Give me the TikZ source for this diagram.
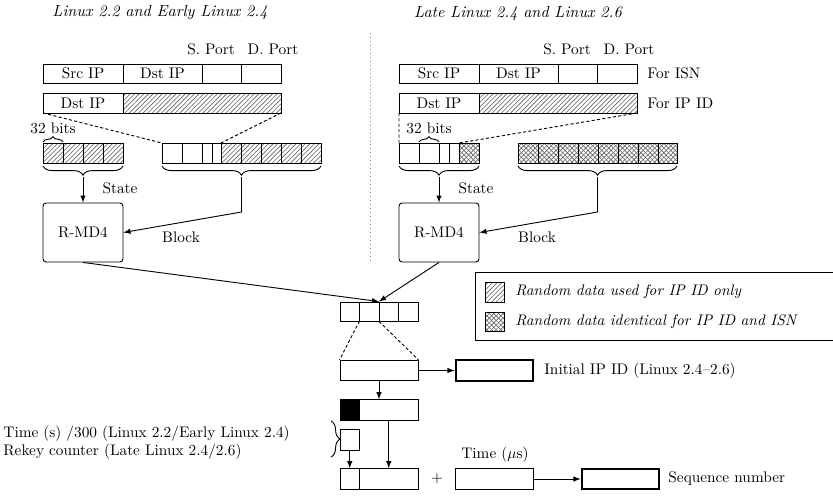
\documentclass[tikz,border=0pt]{standalone}
\usepackage{amsmath}
\usepackage{xcolor}
\usepackage{tikz}
\usetikzlibrary{patterns,decorations.pathreplacing}

\tikzset{
    box/.style={draw, inner sep=0pt, minimum width=50.9pt, minimum height=13.4pt},
    keybox/.style={box, line width=1.3pt},
    md4/.style={draw, rounded corners=2pt, minimum width=52.2pt, minimum height=38.5pt},
    hatch/.style={pattern=north east lines, pattern color=black!60},
    xhatch/.style={pattern=north west lines, pattern color=black!60,
        preaction={fill, pattern=north east lines, pattern color=black!60}},
    brc/.style={decorate, decoration={brace, amplitude=#1}},
    brc/.default=6pt,
    lbl/.style={inner sep=0pt, anchor=west},
    title/.style={font=\fontsize{10.5}{12}\selectfont\itshape},
    zoomline/.style={dash pattern=on 2pt off 1.5pt},
}

\begin{document}
\begin{tikzpicture}[x=0.653pt, y=-0.653pt, >=latex, semithick]
    \useasboundingbox (0,0) rectangle (833,495);

    \node[title] at (160,13) {Linux 2.2 and Early Linux 2.4};
    \node[title] at (518,13) {Late Linux 2.4 and Linux 2.6};
    \draw[dotted, gray] (370,33) -- (370,262);

    \foreach \dx/\nm in {0/A,356/B} {
        \begin{scope}[shift={(\dx,0)}]
            \node at (211,49) {S. Port};
            \node at (273,49) {D. Port};
            \draw (43,64) rectangle (281,83);
            \foreach \x in {123,202,241} \draw (\x,64) -- (\x,83);
            \node at (83,73.5) {Src IP};
            \node at (162.5,73.5) {Dst IP};
            \fill[hatch] (123,93) rectangle (281,113);
            \draw (43,93) rectangle (281,113) (123,93) -- (123,113);
            \node at (83,103) {Dst IP};
            \draw[brc] (123,166) -- (43,166);
            \draw[brc] (321,166) -- (162,166);
            \node[md4] (md\nm) at (83,232.5) {R-MD4};
            \coordinate (st\nm) at (83,177);
            \coordinate (bl\nm) at (241.5,177);
            \node at (120,188) {State};
            \node at (181,237) {Block};
        \end{scope}
        \draw[->] (st\nm) -- (md\nm.north);
        \draw[->] (bl\nm) -- ++(0,35) -- (md\nm.east);
    }

    \node[lbl] at (647,73.5) {For ISN};
    \node[lbl] at (647,103) {For IP ID};

    \node[lbl] at (30,128) {32 bits};
    \draw[brc=3.5pt] (43,142) -- (63,142);
    \fill[hatch] (43,143) rectangle (123,163);
    \draw (43,143) rectangle (123,163);
    \foreach \x in {63,83,103} \draw (\x,143) -- (\x,163);
    \fill[hatch] (221,143) rectangle (321,163);
    \draw (162,143) rectangle (321,163);
    \foreach \x in {182,202,212,221,241,261,281,301} \draw (\x,143) -- (\x,163);
    \draw[zoomline] (43,113) -- (162,143) (281,113) -- (221,143);

    \node[lbl] at (406,128) {32 bits};
    \draw[brc=3.5pt] (419,142) -- (439,142);
    \fill[xhatch] (459,143) rectangle (479,163);
    \draw (399,143) rectangle (479,163);
    \foreach \x in {419,439,449,459} \draw (\x,143) -- (\x,163);
    \fill[xhatch] (518,143) rectangle (677,163);
    \draw (518,143) rectangle (677,163);
    \foreach \x in {538,558,578,598,618,638,658} \draw (\x,143) -- (\x,163);
    \draw[zoomline] (399,113) -- (399,143) (637,113) -- (459,143);

    \draw (475,272) rectangle (850,340);
    \fill[hatch] (485,282) rectangle (504,302);
    \draw (485,282) rectangle (504,302);
    \node[lbl] at (515,292) {\textit{Random data used for IP ID only}};
    \fill[xhatch] (485,312) rectangle (504,331);
    \draw (485,312) rectangle (504,331);
    \node[lbl] at (515,322) {\textit{Random data identical for IP ID and ISN}};

    \node[box, minimum height=12.4pt] (mid) at (379,311.5) {};
    \foreach \x in {359.5,379,398.5} \draw (\x,302) -- (\x,321);
    \draw[->] (mdA.south) -- (mid.north);
    \draw[->] (mdB.south) -- (mid.north);
    \coordinate (mid2) at (359.5,321);

    \node[box] (ipsrc) at (379,370.5) {};
    \draw[zoomline] (mid2) -- (ipsrc.north west) (mid.south) -- (ipsrc.north east);
    \node[keybox] (ipid) at (494.5,370.5) {};
    \node[lbl] at (544,370.5) {Initial IP ID (Linux 2.4--2.6)};
    \draw[->] (ipsrc.east) -- (ipid.west);

    \fill (340,400) rectangle (359.5,420);
    \node[box] (isn) at (379,410) {};
    \draw[->] (ipsrc.south) -- (isn.north);
    \coordinate (isnlow) at (388.75,420);

    \node[box, minimum width=12.7pt] (ctr) at (349.75,440) {};
    \draw[brc] (331,421) -- (331,457);
    \node[lbl, align=left] at (3,442.5) {Time (s) /300 (Linux 2.2/Early Linux 2.4)\\Rekey counter (Late Linux 2.4/2.6)};

    \node[box] (sum) at (379,479) {};
    \draw (359.5,469) -- (359.5,489);
    \draw[->] (isnlow) -- (isnlow |- sum.north);
    \draw[->] (ctr.south) -- (ctr.south |- sum.north);
    \node at (437,479) {$+$};
    \node[box] (usec) at (494.5,479) {};
    \node at (495,455) {Time ($\mu$s)};
    \node[keybox] (seq) at (620.5,479) {};
    \node[lbl] at (668,479) {Sequence number};
    \draw[->] (usec.east) -- (seq.west);
\end{tikzpicture}
\end{document}
